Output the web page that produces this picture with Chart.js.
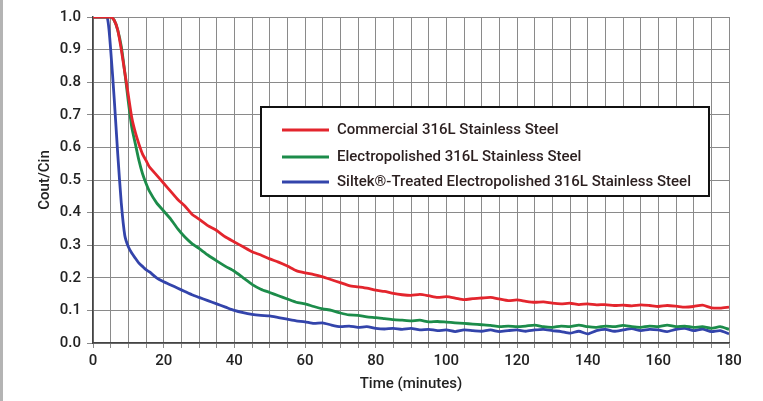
<!DOCTYPE html>
<html>
<head>
<meta charset="utf-8">
<script src="https://cdn.jsdelivr.net/npm/chart.js@4.4.1/dist/chart.umd.min.js"></script>
<style>
  html, body { margin: 0; padding: 0; background: #fff; }
  #wrap { width: 763px; height: 401px; position: relative; }
</style>
</head>
<body>
<div id="wrap"><canvas id="grafica"></canvas></div>
<script>
// Tiempo (minutos) compartido por las tres curvas
const minutos = [
  0, 2, 4, 5, 6, 7, 8, 9, 10, 11, 12, 13, 14, 15, 16, 18, 20, 22, 24, 26, 28,
  30, 32.5, 35, 37.5, 40, 42.5, 45, 47.5, 50, 52.5, 55, 57.5, 60, 62.5, 65, 67.5,
  70, 72.5, 75, 77.5, 80, 82.5, 85, 87.5, 90, 92.5, 95, 97.5, 100, 102.5, 105,
  107.5, 110, 112.5, 115, 117.5, 120, 122.5, 125, 127.5, 130, 132.5, 135, 137.5,
  140, 142.5, 145, 147.5, 150, 152.5, 155, 157.5, 160, 162.5, 165, 167.5, 170,
  172.5, 175, 177.5, 180
];

const etiquetas = [
  'Commercial 316L Stainless Steel',
  'Electropolished 316L Stainless Steel',
  'Siltek\u00AE-Treated Electropolished 316L Stainless Steel'
];

// Cout/Cin
const comercial = [
  1, 1, 1, 1, 0.99, 0.96, 0.9, 0.83, 0.76, 0.69, 0.645, 0.61, 0.58, 0.56, 0.54, 0.515, 0.49, 0.465, 0.44, 0.42, 0.395,
  0.38, 0.36, 0.345, 0.325, 0.31, 0.295, 0.28, 0.27, 0.258, 0.248, 0.236, 0.222, 0.215, 0.21, 0.203, 0.194,
  0.185, 0.176, 0.172, 0.168, 0.162, 0.158, 0.152, 0.148, 0.146, 0.149, 0.145, 0.14, 0.142, 0.138, 0.133,
  0.136, 0.138, 0.14, 0.135, 0.13, 0.132, 0.128, 0.125, 0.126, 0.122, 0.12, 0.122, 0.118,
  0.12, 0.117, 0.118, 0.115, 0.116, 0.114, 0.117, 0.115, 0.112, 0.115, 0.113, 0.11, 0.112,
  0.116, 0.108, 0.107, 0.11
];

const electropulido = [
  1, 1, 1, 1, 0.99, 0.96, 0.91, 0.83, 0.74, 0.66, 0.61, 0.56, 0.52, 0.49, 0.465, 0.43, 0.405, 0.38, 0.35, 0.325, 0.305,
  0.29, 0.27, 0.252, 0.235, 0.22, 0.2, 0.18, 0.165, 0.155, 0.145, 0.135, 0.125, 0.12, 0.112, 0.105, 0.1,
  0.092, 0.086, 0.085, 0.08, 0.078, 0.075, 0.072, 0.07, 0.068, 0.07, 0.065, 0.066, 0.064, 0.062, 0.06,
  0.058, 0.056, 0.054, 0.05, 0.052, 0.05, 0.052, 0.055, 0.05, 0.048, 0.052, 0.05, 0.055,
  0.05, 0.048, 0.052, 0.05, 0.054, 0.05, 0.048, 0.052, 0.05, 0.055, 0.05, 0.052, 0.048,
  0.05, 0.045, 0.05, 0.042
];

const siltek = [
  1, 1, 1, 0.9, 0.75, 0.58, 0.43, 0.33, 0.295, 0.275, 0.26, 0.245, 0.235, 0.225, 0.218, 0.2, 0.188, 0.178, 0.168, 0.158, 0.148,
  0.14, 0.13, 0.12, 0.11, 0.1, 0.093, 0.088, 0.085, 0.083, 0.078, 0.073, 0.068, 0.065, 0.06, 0.062, 0.055,
  0.05, 0.052, 0.048, 0.05, 0.045, 0.043, 0.045, 0.042, 0.045, 0.04, 0.042, 0.038, 0.04, 0.035, 0.04,
  0.038, 0.036, 0.04, 0.035, 0.038, 0.04, 0.036, 0.04, 0.042, 0.038, 0.035, 0.03, 0.036,
  0.028, 0.038, 0.042, 0.036, 0.04, 0.044, 0.038, 0.042, 0.04, 0.035, 0.042, 0.045, 0.038,
  0.043, 0.035, 0.038, 0.028
];

const colores = ['#e3252d', '#1c8c4a', '#3344ab'];
const fuente = "Roboto, 'Liberation Sans', sans-serif";

// Marco gris a la izquierda y leyenda con caja dentro del area de la grafica
const extras = {
  id: 'extras',
  beforeDraw(chart) {
    const ctx = chart.ctx;
    ctx.save();
    ctx.fillStyle = '#fff';
    ctx.fillRect(0, 0, chart.width, chart.height);
    ctx.fillStyle = '#b4b4b4';
    ctx.fillRect(0, 0, 3, chart.height);
    ctx.restore();
  },
  afterDraw(chart) {
    const ctx = chart.ctx;
    ctx.save();
    ctx.fillStyle = '#fff';
    ctx.fillRect(261, 107, 448, 89);
    ctx.strokeStyle = '#111';
    ctx.lineWidth = 2;
    ctx.strokeRect(261, 107, 448, 89);
    const filas = [130, 157, 182];
    chart.data.datasets.forEach((ds, i) => {
      ctx.strokeStyle = ds.borderColor;
      ctx.lineWidth = 3;
      ctx.beginPath();
      ctx.moveTo(282, filas[i]);
      ctx.lineTo(329, filas[i]);
      ctx.stroke();
      ctx.fillStyle = '#2b1f1f';
      ctx.font = '500 15px ' + fuente;
      ctx.textBaseline = 'middle';
      ctx.fillText(ds.label, 337, filas[i]);
    });
    ctx.restore();
  }
};

const fuenteEje = { family: fuente, size: 15, weight: '500' };

new Chart(document.getElementById('grafica'), {
  type: 'line',
  data: {
    labels: minutos,
    datasets: [comercial, electropulido, siltek].map((serie, i) => ({
      label: etiquetas[i],
      data: serie,
      borderColor: colores[i],
      backgroundColor: colores[i],
      borderWidth: 2.8,
      pointRadius: 0,
      tension: 0.2
    }))
  },
  options: {
    responsive: true,
    maintainAspectRatio: false,
    animation: false,
    layout: { padding: { left: 0, top: 17, right: 34, bottom: 0 } },
    plugins: { legend: { display: false }, tooltip: { enabled: false } },
    scales: {
      x: {
        type: 'linear',
        min: 0,
        max: 180,
        afterFit(scale) { scale.height = 58; },
        ticks: {
          stepSize: 5,
          autoSkip: false,
          maxRotation: 0,
          padding: 4,
          color: '#222',
          font: fuenteEje,
          callback: v => (v % 20 === 0 ? v : '')
        },
        grid: { color: '#8a8a8a', lineWidth: 1, tickLength: 5 },
        border: { color: '#444', width: 1.5 },
        title: {
          display: true,
          text: 'Time (minutes)',
          color: '#222',
          font: fuenteEje,
          padding: { top: 0, bottom: 8 }
        }
      },
      y: {
        min: 0,
        max: 1,
        afterFit(scale) { scale.width = 93; },
        ticks: {
          stepSize: 0.1,
          padding: 6,
          color: '#222',
          font: fuenteEje,
          callback: v => v.toFixed(1)
        },
        grid: { color: '#8a8a8a', lineWidth: 1, tickLength: 6 },
        border: { color: '#444', width: 1.5 },
        title: {
          display: true,
          text: 'Cout/Cin',
          color: '#222',
          font: fuenteEje,
          padding: { top: 36, bottom: 0 }
        }
      }
    }
  },
  plugins: [extras]
});
</script>
</body>
</html>
